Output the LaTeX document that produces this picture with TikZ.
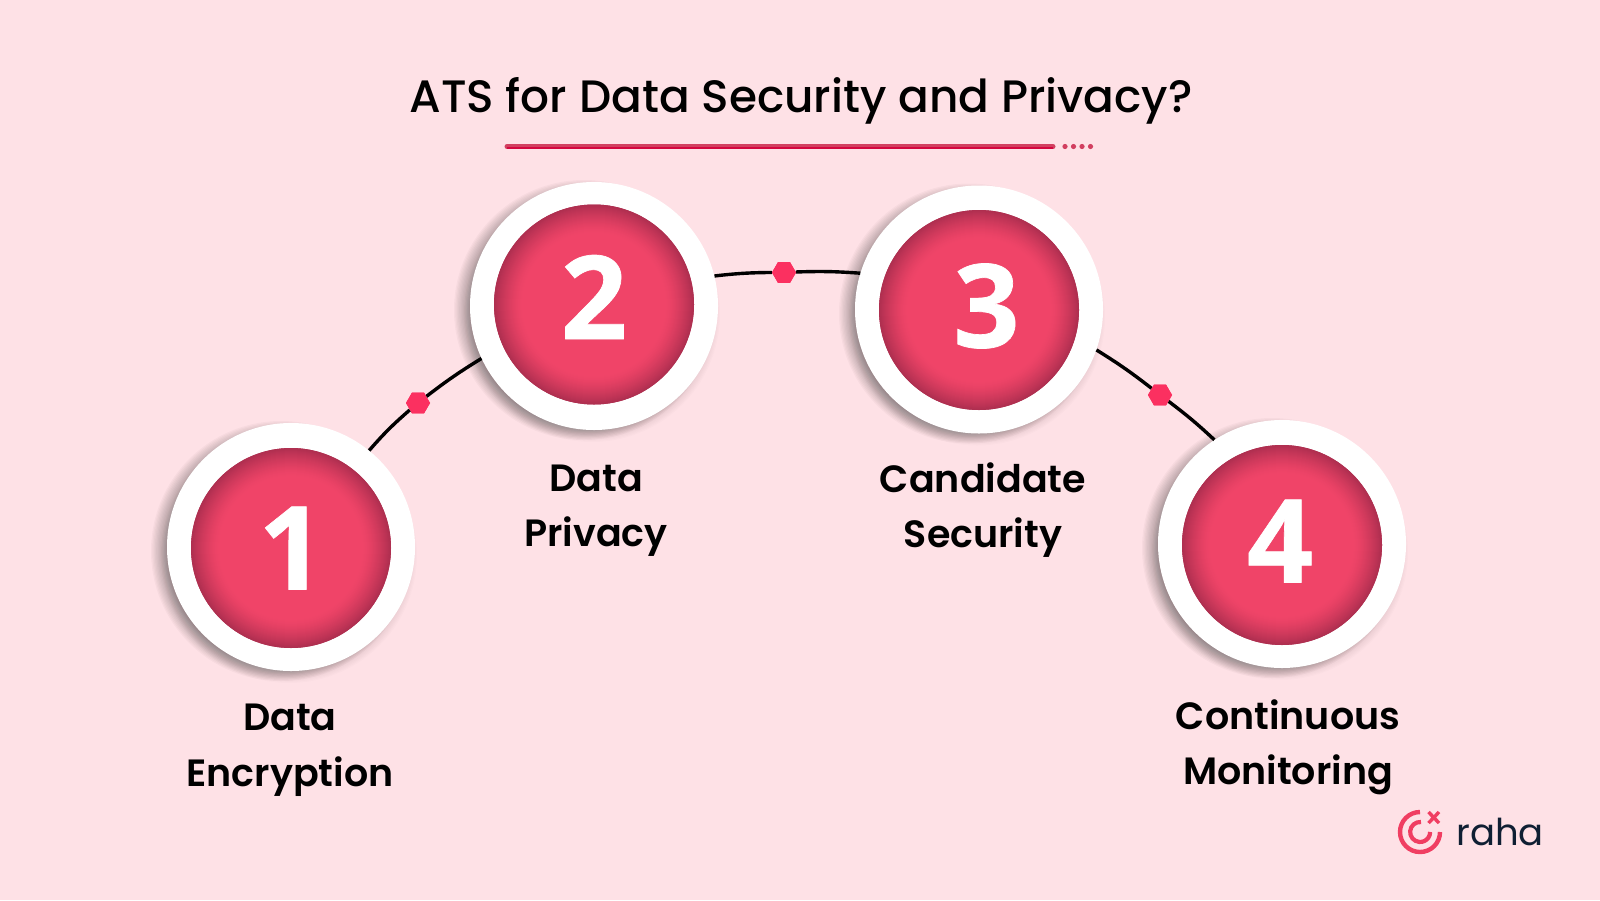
\documentclass[tikz,border=0pt]{standalone}
\usepackage{fontspec}
\usetikzlibrary{shapes.geometric,calc}
\setmainfont{Poppins}
\newfontfamily\medf{Poppins Medium}
\newfontfamily\semif{Poppins SemiBold}
\newfontfamily\digitf[FakeBold=0.6]{Open Sans}
\definecolor{bgpink}{HTML}{FEE1E6}
\definecolor{rosemain}{HTML}{F04468}
\definecolor{roseedge}{HTML}{AF2F50}
\definecolor{rulerose}{HTML}{D23F60}
\definecolor{ruledeep}{HTML}{D4063F}
\definecolor{hexrose}{HTML}{FB3060}
\definecolor{logorose}{HTML}{F03E62}
\definecolor{navy}{HTML}{0F1F33}
\tikzset{
  ring/.style={circle,fill=white,minimum size=248pt,inner sep=0pt},
  disc/.style={circle,fill=roseedge,minimum size=200pt,inner sep=0pt},
  digit/.style={text=white,font=\digitf\bfseries\fontsize{116}{116}\selectfont,inner sep=0pt},
  hexdot/.style={regular polygon,regular polygon sides=6,fill=hexrose,minimum size=24pt,inner sep=0pt},
  link/.style={draw=black,line width=3.4pt},
  lab/.style={align=center,text=black,font=\semif\fontsize{38}{55.5}\selectfont,inner sep=0pt},
  titlelab/.style={text=black,font=\medf\fontsize{45.4}{55}\selectfont,inner sep=0pt},
}
\newcommand{\softshadow}[2]{%
  \foreach \k in {0,...,19}{
    \fill[black,opacity=0.026] ({#1-10},{#2+4}) circle ({130-\k*1.3});
  }
  \foreach \k in {0,...,9}{
    \fill[black,opacity=0.012] ({#1-2},{#2+8}) circle ({128-\k*1.2});
  }
}
\newcommand{\discglow}[2]{%
  \foreach \r in {100,99,...,72}{
    \pgfmathsetmacro{\pct}{100*((\r-72)/28)^1.4}
    \fill[roseedge!\pct!rosemain] (#1,#2) circle (\r);
  }
}
\begin{document}
\begin{tikzpicture}[x=1pt,y=-1pt]
\useasboundingbox (0,0) rectangle (1600,900);
\fill[bgpink] (0,0) rectangle (1600,900);
\softshadow{291}{547}
\softshadow{594}{306}
\softshadow{979}{309.5}
\softshadow{1282}{544}
\node[titlelab] (title) at (801,101) {ATS for Data Security and Privacy?};
\draw[rulerose,line width=5pt,line cap=round] (507,146.5) coordinate (ra) -- (1053,146.5) coordinate (rb);
\draw[ruledeep,line width=1.8pt] (ra) ++(0,1.6) -- ($(rb)+(0,1.6)$);
\foreach \x in {1065,1073.5,1082,1090.5}{\fill[rulerose] (\x,146.5) circle (2.6);}
\node[ring] (c1) at (291,547) {};
\node[ring] (c2) at (594,306) {};
\node[ring] (c3) at (979,309.5) {};
\node[ring] (c4) at (1282,544) {};
\node[disc] (d1) at (291,548) {};
\node[disc] (d2) at (594,304.5) {};
\node[disc] (d3) at (979,310) {};
\node[disc] (d4) at (1282,545) {};
\discglow{291}{548}
\discglow{594}{304.5}
\discglow{979}{310}
\discglow{1282}{545}
\node[digit] (n1) at (291.5,548) {1};
\node[digit] (n2) at (594,297) {2};
\node[digit] (n3) at (986.5,306) {3};
\node[digit] (n4) at (1280,541) {4};
\node[hexdot] (h1) at (418,403) {};
\node[hexdot] (h2) at (784,272.5) {};
\node[hexdot] (h3) at (1160,395) {};
\draw[link] (c1.51) to[bend left=4] (h1);
\draw[link] (h1) to[bend left=3] (c2.205);
\draw[link] (c2.14) to[bend left=3] (h2);
\draw[link] (h2) to[bend left=3] (c3.163.4);
\draw[link] (c3.-19.6) to[bend left=3] (h3);
\draw[link] (h3) to[bend left=3] (c4.123.4);
\node[hexdot] at (h1) {};
\node[hexdot] at (h2) {};
\node[hexdot] at (h3) {};
\node[lab] (l1) at (290,750) {Data\\Encryption};
\node[lab] (l2) at (596,510.5) {Data\\Privacy};
\node[lab] (l3) at (983,510) {Candidate\\Security};
\node[lab] (l4) at (1288,747.5) {Continuous\\Monitoring};
\draw[logorose,line width=4.4pt] (1420,812) arc[start angle=-90,end angle=-360,radius=20];
\draw[logorose,line width=4.2pt] (1421,822) arc[start angle=-85,end angle=-360,radius=10];
\draw[logorose,line width=3.4pt] (1428.5,812) -- (1439,823) (1439,812) -- (1428.5,823);
\node[text=navy,font=\fontsize{37}{37}\selectfont,anchor=base west,inner sep=0pt] (logo) at (1456,845) {raha};
\end{tikzpicture}
\end{document}
